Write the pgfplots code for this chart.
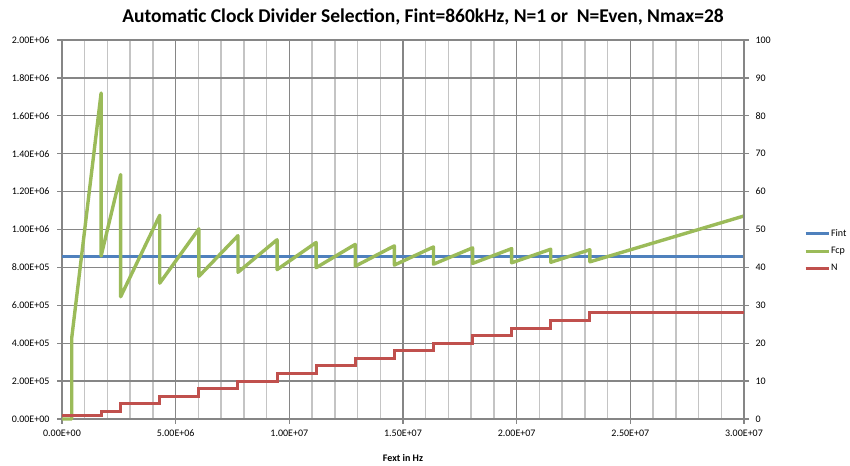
\documentclass[border=0pt]{standalone}
\usepackage{fontspec}
\setmainfont{Carlito}
\usepackage{pgfplots}
\pgfplotsset{compat=1.18}
\definecolor{cblue}{HTML}{4F81BD}
\definecolor{cgreen}{HTML}{9BBB59}
\definecolor{cred}{HTML}{C0504D}
\definecolor{gridmaj}{HTML}{868686}
\definecolor{gridmin}{HTML}{C4C4C4}
\newcommand{\tickfont}{\fontsize{10bp}{12bp}\selectfont}
\begin{document}
\begin{tikzpicture}[x=1bp,y=1bp]
\useasboundingbox (0,0) rectangle (850,466);
\node[font=\bfseries\fontsize{19.5bp}{22bp}\selectfont] at (423,449) {Automatic Clock Divider Selection, Fint=860kHz, N=1 or\ \ N=Even, Nmax=28};
\node[font=\bfseries\tickfont] at (403,8) {Fext in Hz};
\begin{axis}[
  at={(62bp,47bp)}, anchor=south west,
  width=682bp, height=379bp, scale only axis,
  xmin=0, xmax=30000000, ymin=0, ymax=2000000,
  axis x line*=bottom, axis y line*=left,
  axis line style={gridmaj, line width=1.3bp, -},
  xtick={0,5000000,10000000,15000000,20000000,25000000,30000000},
  xticklabels={0.00E+00,5.00E+06,1.00E+07,1.50E+07,2.00E+07,2.50E+07,3.00E+07},
  minor xtick={1000000,2000000,3000000,4000000,6000000,7000000,8000000,9000000,11000000,12000000,13000000,14000000,16000000,17000000,18000000,19000000,21000000,22000000,23000000,24000000,26000000,27000000,28000000,29000000},
  ytick={0,200000,400000,600000,800000,1000000,1200000,1400000,1600000,1800000,2000000},
  yticklabels={0.00E+00,2.00E+05,4.00E+05,6.00E+05,8.00E+05,1.00E+06,1.20E+06,1.40E+06,1.60E+06,1.80E+06,2.00E+06},
  scaled x ticks=false, scaled y ticks=false,
  tick align=outside, major tick length=5bp, minor tick length=0pt,
  tick style={gridmaj, line width=1.3bp},
  xmajorgrids, xminorgrids, ymajorgrids,
  major grid style={gridmaj, line width=1.3bp},
  minor grid style={gridmin, line width=1.5bp},
  ticklabel style={font=\tickfont},
  xticklabel style={yshift=-2bp},
  yticklabel style={xshift=-4bp},
  legend style={draw=none, fill=none, at={(1.088,0.443)}, anchor=west, inner sep=0pt, outer sep=0pt, font=\tickfont, row sep=8bp, nodes={inner sep=0.6bp}},
  legend cell align=left,
  legend image code/.code={\draw[#1] (0bp,0bp) -- (23bp,0bp);},
  clip=false,
]
\addplot[cblue, line width=3bp] coordinates {(0,860000) (30000000,860000)};
\addlegendentry{Fint}
\addplot[cgreen, line width=3.4bp, line join=round] coordinates {
(0,0)(430000,0)(430000,430000)(1720000,1720000)(1720000,860000)(2580000,1290000)(2580000,645000)(4300000,1075000)(4300000,716667)(6020000,1003333)(6020000,752500)(7740000,967500)(7740000,774000)(9460000,946000)(9460000,788333)(11180000,931667)(11180000,798571)(12900000,921429)(12900000,806250)(14620000,913750)(14620000,812222)(16340000,907778)(16340000,817000)(18060000,903000)(18060000,820909)(19780000,899091)(19780000,824167)(21500000,895833)(21500000,826923)(23220000,893077)(23220000,829286)(30000000,1071429)};
\addlegendentry{Fcp}
\addlegendimage{cred, line width=3bp}
\addlegendentry{N}
\end{axis}
\begin{axis}[
  at={(62bp,47bp)}, anchor=south west,
  width=682bp, height=379bp, scale only axis,
  xmin=0, xmax=30000000, ymin=0, ymax=100,
  axis x line=none, axis y line*=right,
  axis line style={gridmaj, line width=1.3bp, -},
  ytick={0,10,20,30,40,50,60,70,80,90,100},
  yticklabels={0,10,20,30,40,50,60,70,80,90,100},
  tick align=outside, major tick length=5bp,
  tick style={gridmaj, line width=1.3bp},
  ticklabel style={font=\tickfont},
  yticklabel style={xshift=3bp},
  clip=false,
]
\addplot[cred, line width=3bp] coordinates {
(0,1)(1720000,1)(1720000,2)(2580000,2)(2580000,4)(4300000,4)(4300000,6)(6020000,6)(6020000,8)(7740000,8)(7740000,10)(9460000,10)(9460000,12)(11180000,12)(11180000,14)(12900000,14)(12900000,16)(14620000,16)(14620000,18)(16340000,18)(16340000,20)(18060000,20)(18060000,22)(19780000,22)(19780000,24)(21500000,24)(21500000,26)(23220000,26)(23220000,28)(30000000,28)};
\end{axis}
\end{tikzpicture}
\end{document}
